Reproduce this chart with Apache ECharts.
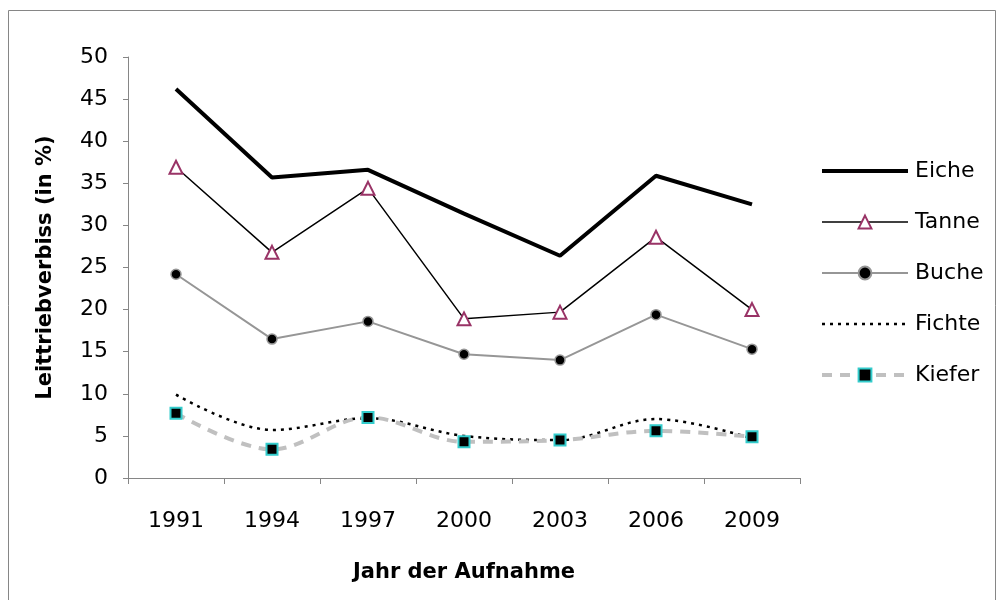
<!DOCTYPE html>
<html>
<head>
<meta charset="utf-8">
<script src="https://cdn.jsdelivr.net/npm/echarts@6/dist/echarts.min.js"></script>
<style>
  html, body { margin: 0; padding: 0; background: #fff; }
  #chart { width: 999px; height: 600px; }
</style>
</head>
<body>
<div id="chart"></div>
<script>
// data
var years = ['1991', '1994', '1997', '2000', '2003', '2006', '2009'];
var eiche  = [46.2, 35.7, 36.6, 31.4, 26.4, 35.9, 32.5];
var tanne  = [36.9, 26.8, 34.4, 18.9, 19.7, 28.6, 20.0];
var buche  = [24.2, 16.5, 18.6, 14.7, 14.0, 19.4, 15.3];
var fichte = [9.9, 5.7, 7.1, 5.0, 4.5, 7.0, 4.7];
var kiefer = [7.7, 3.4, 7.2, 4.3, 4.5, 5.6, 4.9];

var font = 'DejaVu Sans';
var axisGray = '#868686';

var chart = echarts.init(document.getElementById('chart'));

chart.setOption({
  animation: false,
  textStyle: { fontFamily: font },
  graphic: [{
    type: 'rect',
    shape: { x: 8.5, y: 10.5, width: 987, height: 600 },
    style: { fill: 'none', stroke: axisGray, lineWidth: 1 },
    silent: true
  }],
  grid: { left: 128, right: 199, top: 57, bottom: 122 },
  legend: {
    orient: 'vertical',
    left: 815,
    top: 155,
    itemWidth: 86,
    itemHeight: 16,
    itemGap: 29,
    textStyle: { fontSize: 22, color: '#000', fontFamily: font, lineHeight: 22, padding: [0, 0, 0, 2] },
    data: [
      { name: 'Eiche', itemStyle: { opacity: 0 }, lineStyle: { width: 4 } },
      { name: 'Tanne', lineStyle: { width: 1.5 } },
      { name: 'Buche', lineStyle: { width: 2 } },
      { name: 'Fichte', itemStyle: { opacity: 0 }, lineStyle: { width: 2.5 } },
      { name: 'Kiefer', lineStyle: { width: 4 } }
    ]
  },
  xAxis: {
    type: 'category',
    data: years,
    boundaryGap: true,
    name: 'Jahr der Aufnahme',
    nameLocation: 'middle',
    nameGap: 84,
    nameTextStyle: { fontSize: 21, fontWeight: 'bold', color: '#000', fontFamily: font },
    axisLine: { lineStyle: { color: axisGray, width: 1 } },
    axisTick: { show: true, length: 6, lineStyle: { color: axisGray } },
    axisLabel: { fontSize: 22, color: '#000', margin: 32, fontFamily: font },
    splitLine: { show: false }
  },
  yAxis: {
    type: 'value',
    min: 0,
    max: 50,
    interval: 5,
    name: 'Leittriebverbiss (in %)',
    nameLocation: 'middle',
    nameGap: 72,
    nameTextStyle: { fontSize: 21, fontWeight: 'bold', color: '#000', fontFamily: font },
    axisLine: { show: true, lineStyle: { color: axisGray, width: 1 } },
    axisTick: { show: true, length: 5, lineStyle: { color: axisGray } },
    axisLabel: { fontSize: 22, color: '#000', margin: 20, fontFamily: font },
    splitLine: { show: false }
  },
  series: [
    {
      name: 'Eiche', type: 'line', data: eiche,
      symbol: 'none',
      lineStyle: { color: '#000', width: 4 },
      itemStyle: { color: '#000' }
    },
    {
      name: 'Tanne', type: 'line', data: tanne,
      symbol: 'triangle', symbolSize: 13,
      lineStyle: { color: '#000', width: 1.5 },
      itemStyle: { color: '#fff', borderColor: '#993366', borderWidth: 2 }
    },
    {
      name: 'Buche', type: 'line', data: buche,
      symbol: 'circle', symbolSize: 10,
      lineStyle: { color: '#969696', width: 2 },
      itemStyle: { color: '#000', borderColor: '#969696', borderWidth: 1.5 }
    },
    {
      name: 'Fichte', type: 'line', data: fichte,
      symbol: 'none', smooth: 0.35,
      lineStyle: { color: '#000', width: 2.5, type: [3, 5] },
      itemStyle: { color: '#000' }
    },
    {
      name: 'Kiefer', type: 'line', data: kiefer,
      symbol: 'rect', symbolSize: 11, smooth: 0.35,
      lineStyle: { color: '#c0c0c0', width: 4, type: [10, 8] },
      itemStyle: { color: '#000', borderColor: '#33cccc', borderWidth: 2 }
    }
  ]
});
</script>
</body>
</html>
